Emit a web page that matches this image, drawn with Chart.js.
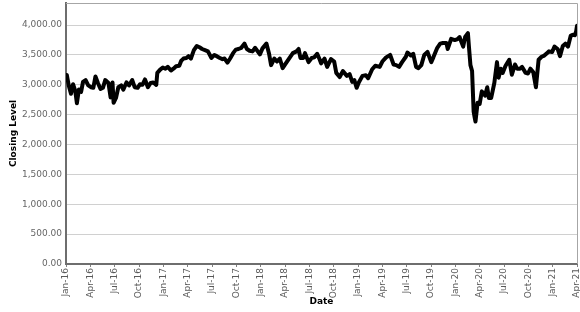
<!DOCTYPE html>
<html>
<head>
<meta charset="utf-8">
<script src="https://cdn.jsdelivr.net/npm/chart.js@4.4.0/dist/chart.umd.min.js"></script>
<style>
  body { margin: 0; background: #fff; }
  canvas { display: block; }
</style>
</head>
<body>
<canvas id="myChart" width="580" height="312"></canvas>
<script>
    // closing levels, roughly two or three per month
    const dates = [
        '2016-01-04', '2016-01-12', '2016-01-20', '2016-01-28', '2016-02-05', '2016-02-11', '2016-02-18', '2016-02-26',
        '2016-03-04', '2016-03-14', '2016-03-24', '2016-04-04', '2016-04-12', '2016-04-20', '2016-04-29', '2016-05-09',
        '2016-05-18', '2016-05-27', '2016-06-08', '2016-06-16', '2016-06-23', '2016-06-27', '2016-07-06', '2016-07-15',
        '2016-07-26', '2016-08-03', '2016-08-15', '2016-08-25', '2016-09-06', '2016-09-15', '2016-09-26', '2016-10-05',
        '2016-10-14', '2016-10-24', '2016-11-04', '2016-11-14', '2016-11-24', '2016-12-05', '2016-12-09', '2016-12-19',
        '2016-12-30',
        '2017-01-09', '2017-01-18', '2017-01-30', '2017-02-08', '2017-02-17', '2017-02-28', '2017-03-07', '2017-03-16',
        '2017-03-27', '2017-04-04', '2017-04-13', '2017-04-24', '2017-05-05', '2017-05-15', '2017-05-25', '2017-06-05',
        '2017-06-16', '2017-06-29', '2017-07-10', '2017-07-19', '2017-07-31', '2017-08-10', '2017-08-18', '2017-08-29',
        '2017-09-08', '2017-09-19', '2017-09-29', '2017-10-09', '2017-10-20', '2017-11-01', '2017-11-10', '2017-11-20',
        '2017-12-01', '2017-12-11', '2017-12-29',
        '2018-01-08', '2018-01-23', '2018-02-02', '2018-02-09', '2018-02-20', '2018-03-01', '2018-03-12', '2018-03-23',
        '2018-04-04', '2018-04-16', '2018-04-30', '2018-05-14', '2018-05-22', '2018-05-29', '2018-06-08', '2018-06-15',
        '2018-06-28', '2018-07-10', '2018-07-20', '2018-07-31', '2018-08-10', '2018-08-15', '2018-08-28', '2018-09-07',
        '2018-09-21', '2018-10-03', '2018-10-11', '2018-10-24', '2018-11-05', '2018-11-20', '2018-11-30', '2018-12-10',
        '2018-12-18', '2018-12-27',
        '2019-01-04', '2019-01-18', '2019-01-31', '2019-02-08', '2019-02-22', '2019-03-05', '2019-03-22', '2019-04-01',
        '2019-04-15', '2019-04-30', '2019-05-13', '2019-05-23', '2019-06-03', '2019-06-14', '2019-06-28', '2019-07-04',
        '2019-07-17', '2019-07-26', '2019-08-06', '2019-08-15', '2019-08-26', '2019-09-06', '2019-09-18', '2019-10-02',
        '2019-10-10', '2019-10-25', '2019-11-05', '2019-11-15', '2019-11-28', '2019-12-03', '2019-12-16', '2019-12-30',
        '2020-01-08', '2020-01-17', '2020-01-31', '2020-02-07', '2020-02-17', '2020-02-21', '2020-02-26', '2020-03-03',
        '2020-03-09', '2020-03-13', '2020-03-16', '2020-03-24', '2020-04-01', '2020-04-09', '2020-04-21', '2020-04-29',
        '2020-05-05', '2020-05-14', '2020-05-26', '2020-06-05', '2020-06-11', '2020-06-19', '2020-06-26', '2020-07-07',
        '2020-07-21', '2020-07-31', '2020-08-12', '2020-08-20', '2020-08-31', '2020-09-08', '2020-09-21', '2020-09-30',
        '2020-10-09', '2020-10-20', '2020-10-30', '2020-11-09', '2020-11-20', '2020-11-30', '2020-12-10', '2020-12-18',
        '2020-12-30',
        '2021-01-08', '2021-01-20', '2021-01-29', '2021-02-08', '2021-02-17', '2021-02-26', '2021-03-08', '2021-03-12',
        '2021-03-19', '2021-03-24', '2021-03-29', '2021-04-01'
    ];

    const closing = [
        3165, 2980, 2850, 3010, 2900, 2690, 2920, 2880,
        3050, 3080, 2990, 2960, 2950, 3140, 3030, 2930,
        2950, 3080, 3030, 2790, 3040, 2700, 2780, 2960,
        2990, 2920, 3040, 2990, 3080, 2960, 2950, 3010,
        3000, 3090, 2960, 3030, 3040, 3000, 3200, 3250,
        3290,
        3270, 3300, 3240, 3270, 3310, 3320, 3400, 3440,
        3450, 3480, 3440, 3580, 3650, 3630, 3600, 3580,
        3560, 3450, 3500, 3480, 3450, 3430, 3440, 3370,
        3440, 3530, 3590, 3600, 3620, 3690, 3600, 3570,
        3560, 3620, 3510,
        3610, 3690, 3520, 3330, 3440, 3390, 3440, 3280,
        3360, 3440, 3530, 3560, 3600, 3450, 3450, 3530,
        3380, 3450, 3460, 3520, 3420, 3360, 3440, 3300,
        3430, 3390, 3200, 3130, 3230, 3150, 3180, 3050,
        3080, 2950,
        3040, 3150, 3160, 3110, 3260, 3320, 3300, 3390,
        3460, 3500, 3340, 3330, 3300, 3380, 3470, 3540,
        3490, 3520, 3300, 3280, 3330, 3500, 3550, 3380,
        3460, 3620, 3690, 3700, 3700, 3600, 3770, 3750,
        3760, 3800, 3640, 3800, 3865, 3620, 3330, 3230,
        2550, 2450, 2385, 2700, 2680, 2890, 2820, 2960,
        2780, 2780, 3030, 3380, 3120, 3270, 3200, 3320,
        3420, 3170, 3340, 3270, 3270, 3300, 3200, 3190,
        3270, 3210, 2960, 3420, 3470, 3490, 3530, 3560,
        3550,
        3640, 3600, 3480, 3650, 3690, 3640, 3820, 3830,
        3840, 3830, 3900, 3990
    ];

    const quarterNames = ['Jan', 'Apr', 'Jul', 'Oct'];
    const yTicks = [0, 500, 1000, 1500, 2000, 2500, 3000, 3500, 4000];

    // month index counted from Jan 2016
    function monthIndex(s) {
        const [y, m, d] = s.split('-').map(Number);
        const days = new Date(y, m, 0).getDate();
        return (y - 2016) * 12 + (m - 1) + (d - 1) / days;
    }

    const points = dates.map((d, i) => ({ x: monthIndex(d), y: closing[i] }));

    const frame = {
        id: 'frame',
        afterDraw(chart) {
            const { ctx, chartArea: a } = chart;
            ctx.save();
            ctx.strokeStyle = '#a6a6a6';
            ctx.lineWidth = 1;
            ctx.beginPath();
            ctx.moveTo(a.left, a.top + 0.5);
            ctx.lineTo(a.right + 0.5, a.top + 0.5);
            ctx.lineTo(a.right + 0.5, a.bottom);
            ctx.stroke();
            ctx.restore();
        }
    };

    const config = {
        type: 'line',
        data: {
            datasets: [{
                data: points,
                borderColor: '#000',
                borderWidth: 4,
                pointRadius: 0,
                tension: 0,
                borderJoinStyle: 'round',
                borderCapStyle: 'round'
            }]
        },
        options: {
            responsive: false,
            animation: false,
            layout: { padding: { top: 3, right: 3, left: 0, bottom: 0 } },
            plugins: { legend: { display: false }, tooltip: { enabled: false } },
            scales: {
                x: {
                    type: 'linear',
                    min: 0,
                    max: 63,
                    afterFit: function (scale) {
                        scale.height = 48;
                        scale.paddingRight = 0;
                        scale.paddingLeft = 0;
                    },
                    ticks: {
                        stepSize: 3,
                        autoSkip: false,
                        minRotation: 90,
                        maxRotation: 90,
                        padding: 1,
                        color: '#595959',
                        font: { family: 'DejaVu Sans', size: 9 },
                        callback: function (v) {
                            return quarterNames[(v / 3) % 4] + '-' + (16 + Math.floor(v / 12));
                        }
                    },
                    grid: {
                        drawOnChartArea: false,
                        drawTicks: true,
                        tickLength: 3,
                        tickColor: '#808080'
                    },
                    border: { color: '#6e6e6e', width: 2 },
                    title: {
                        display: true,
                        text: 'Date',
                        color: '#000',
                        font: { family: 'DejaVu Sans', size: 9, weight: 'bold' },
                        padding: { top: 0, bottom: 5 }
                    }
                },
                y: {
                    min: 0,
                    max: 4370,
                    afterFit: function (scale) {
                        scale.width = 66;
                        scale.paddingTop = 0;
                        scale.paddingBottom = 0;
                    },
                    afterBuildTicks: function (scale) {
                        scale.ticks = yTicks.map(v => ({ value: v }));
                    },
                    ticks: {
                        padding: 4,
                        color: '#666',
                        font: { family: 'DejaVu Sans', size: 9 },
                        callback: function (v) {
                            return v.toLocaleString('en-US', { minimumFractionDigits: 2, maximumFractionDigits: 2 });
                        }
                    },
                    grid: {
                        color: '#d0d0d0',
                        lineWidth: 1,
                        drawTicks: false
                    },
                    border: { color: '#6e6e6e', width: 2 },
                    title: {
                        display: true,
                        text: 'Closing Level',
                        color: '#000',
                        font: { family: 'DejaVu Sans', size: 9, weight: 'bold' },
                        padding: { top: 8, bottom: 0 }
                    }
                }
            }
        },
        plugins: [frame]
    };

    const myChart = new Chart(document.getElementById('myChart'), config);
</script>
</body>
</html>
